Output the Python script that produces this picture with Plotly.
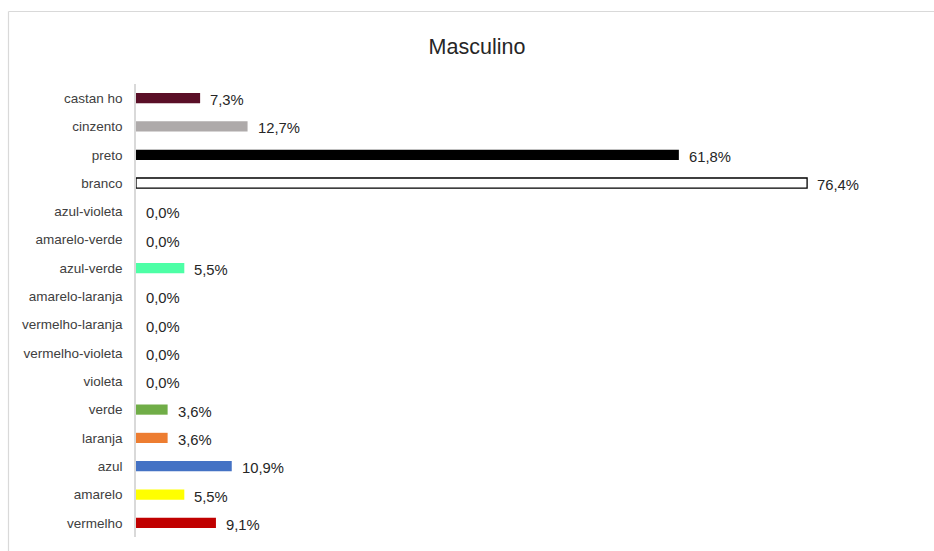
import plotly.graph_objects as go

# Category labels, listed bottom to top as they appear on the axis
categories = [
    "vermelho", "amarelo", "azul", "laranja", "verde", "violeta",
    "vermelho-violeta", "vermelho-laranja", "amarelo-laranja", "azul-verde",
    "amarelo-verde", "azul-violeta", "branco", "preto", "cinzento", "castanho",
]
# Tick text as printed (keeps the odd spacing of the source labels)
tick_text = [
    "vermelho", "amarelo", "azul", "laranja", "verde", "violeta",
    "vermelho-violeta", "vermelho-laranja", "amarelo-laranja", "azul-verde",
    "amarelo-verde", "azul-violeta", "branco", "preto", "cinzento", "castan ho",
]
values = [9.1, 5.5, 10.9, 3.6, 3.6, 0.0, 0.0, 0.0, 0.0, 5.5, 0.0, 0.0, 76.4, 61.8, 12.7, 7.3]
bar_colors = [
    "#c00000", "#ffff00", "#4472c4", "#ed7d31", "#70ad47", "#7030a0",
    "#7030a0", "#ff5b00", "#ffc000", "#4dffa6", "#c0ff00", "#3030c0",
    "#ffffff", "#000000", "#aeaaaa", "#5a0f27",
]
outline_colors = ["#000000" if c == "#ffffff" else c for c in bar_colors]
outline_widths = [1.3 if c == "#ffffff" else 0 for c in bar_colors]

W, H = 934, 551
ML, MR, MT, MB = 136, 25, 84, 14
plot_w = W - ML - MR
plot_h = H - MT - MB

fig = go.Figure()
fig.add_trace(go.Bar(
    y=categories,
    x=values,
    orientation="h",
    width=0.36,
    marker=dict(color=bar_colors, line=dict(color=outline_colors, width=outline_widths)),
    hoverinfo="skip",
))

# Percentage labels placed just to the right of each bar end
for cat, v in zip(categories, values):
    fig.add_annotation(
        x=v, y=cat, xref="x", yref="y",
        text=f"{v:.1f}%".replace(".", ","),
        showarrow=False, xanchor="left", yanchor="middle",
        xshift=8, yshift=-2,
        font=dict(family="Liberation Sans", size=14.8, color="#262626"),
    )

# Chart frame (left and top edges)
px_x = lambda p: (p - ML) / plot_w
px_y = lambda p: 1 - (p - MT) / plot_h
fig.add_shape(type="line", xref="paper", yref="paper",
              x0=px_x(8.5), x1=px_x(8.5), y0=px_y(11.5), y1=px_y(560),
              line=dict(color="#d9d9d9", width=1.2))
fig.add_shape(type="line", xref="paper", yref="paper",
              x0=px_x(8.5), x1=px_x(950), y0=px_y(11.5), y1=px_y(11.5),
              line=dict(color="#d9d9d9", width=1.2))

fig.update_layout(
    width=W, height=H,
    margin=dict(l=ML, r=MR, t=MT, b=MB),
    paper_bgcolor="white", plot_bgcolor="white",
    showlegend=False,
    title=dict(
        text="Masculino", x=477 / W, xref="container", xanchor="center",
        y=1 - 46 / H, yref="container", yanchor="middle",
        font=dict(family="Liberation Sans", size=21.5, color="#262626"),
    ),
    xaxis=dict(range=[0, 88], visible=False, fixedrange=True),
    yaxis=dict(
        categoryorder="array", categoryarray=categories,
        tickmode="array", tickvals=categories, ticktext=tick_text,
        showline=True, linecolor="#d9d9d9", linewidth=1.5,
        showgrid=False, zeroline=False, ticks="",
        ticklabelstandoff=9,
        tickfont=dict(family="Liberation Sans", size=13.5, color="#404040"),
        range=[-0.5, 15.5],
    ),
    bargap=0.64,
)

fig.write_html("out.html")
